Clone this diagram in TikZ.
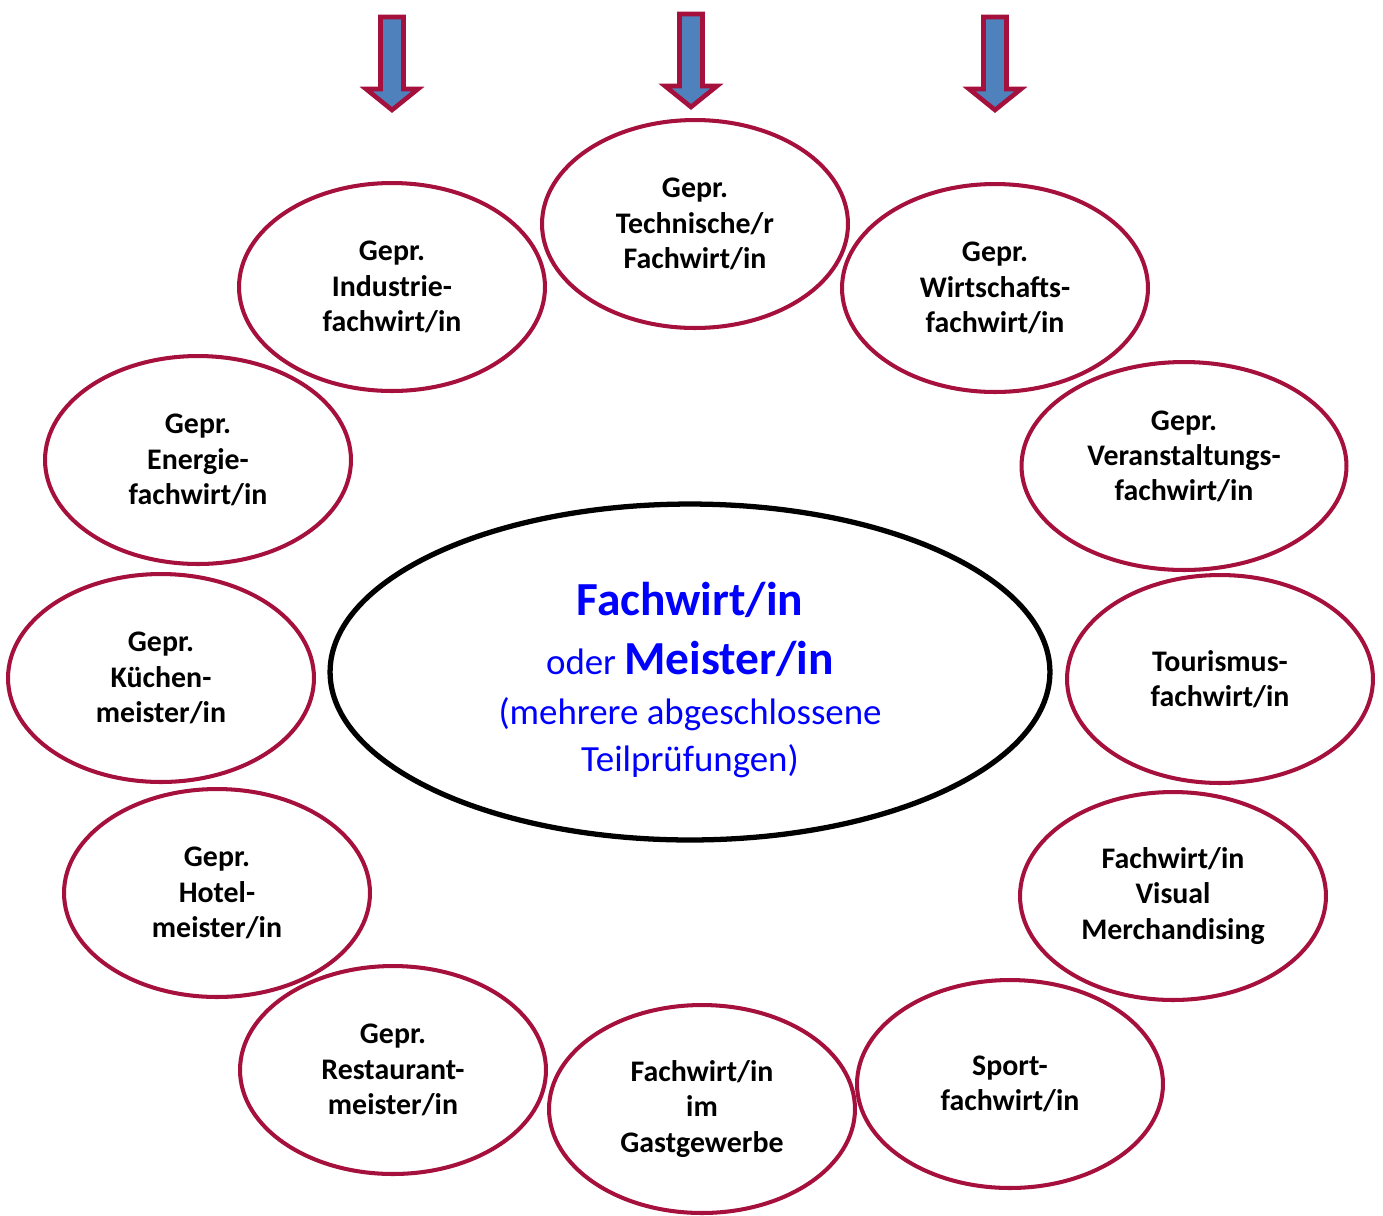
\documentclass[tikz,border=0pt]{standalone}
\usepackage{fontspec}
\setmainfont{Carlito}
\usetikzlibrary{shapes.geometric}
\definecolor{rahmen}{RGB}{165,16,60}
\definecolor{pfeilblau}{RGB}{79,129,189}
\definecolor{titelblau}{RGB}{0,0,255}
\begin{document}
\begin{tikzpicture}[x=0.02cm,y=-0.02cm,
  beruf/.style={draw=rahmen, line width=2.3pt, ellipse, inner sep=0pt,
    minimum width=6.12cm, minimum height=4.16cm, align=center,
    font=\fontsize{17}{20}\selectfont\bfseries},
  pfeil/.style={draw=rahmen, fill=pfeilblau, line width=2.6pt}]
\useasboundingbox (0,0) rectangle (1383,1215);

\node[draw, ellipse, line width=3pt, minimum width=14.4cm, minimum height=6.72cm,
  text=titelblau, align=center, font=\fontsize{21}{26.7}\selectfont] (0) at (690,672)
  {\rule{0pt}{28pt}{\fontsize{27}{33}\selectfont\bfseries Fachwirt/in}\\[7.3pt]
   oder {\fontsize{27}{33}\selectfont\bfseries Meister/in}\\[1.7pt]
   (mehrere abgeschlossene\\
   Teilprüfungen)};

\node[beruf] (1) at (695,224) {Gepr.\\Technische/r\\Fachwirt/in};
\node[beruf] (2) at (995,288) {Gepr.\\Wirtschafts-\\fachwirt/in};
\node[beruf, minimum width=6.5cm] (3) at (1184,466) {Gepr.\\Veranstaltungs-\\fachwirt/in\rule[-12pt]{0pt}{12pt}};
\node[beruf] (4) at (1220,679) {Tourismus-\\fachwirt/in};
\node[beruf] (5) at (1173,896) {Fachwirt/in\\Visual\\Merchandising};
\node[beruf] (6) at (1010,1084) {Sport-\\fachwirt/in};
\node[beruf] (7) at (702,1109) {Fachwirt/in\\im\\Gastgewerbe};
\node[beruf] (8) at (393,1070) {Gepr.\\Restaurant-\\meister/in};
\node[beruf] (9) at (217,893) {Gepr.\\Hotel-\\meister/in};
\node[beruf] (10) at (161,678) {Gepr.\\Küchen-\\meister/in};
\node[beruf] (11) at (198,460) {Gepr.\\Energie-\\fachwirt/in};
\node[beruf] (12) at (392,287) {Gepr.\\Industrie-\\fachwirt/in};

\foreach \x/\t in {392/17, 691/14, 995/17}
  \draw[pfeil] (\x-11.5,\t) -- (\x+11.5,\t) -- (\x+11.5,\t+72) -- (\x+26,\t+72)
    -- (\x,\t+93) -- (\x-26,\t+72) -- (\x-11.5,\t+72) -- cycle;
\end{tikzpicture}
\end{document}
